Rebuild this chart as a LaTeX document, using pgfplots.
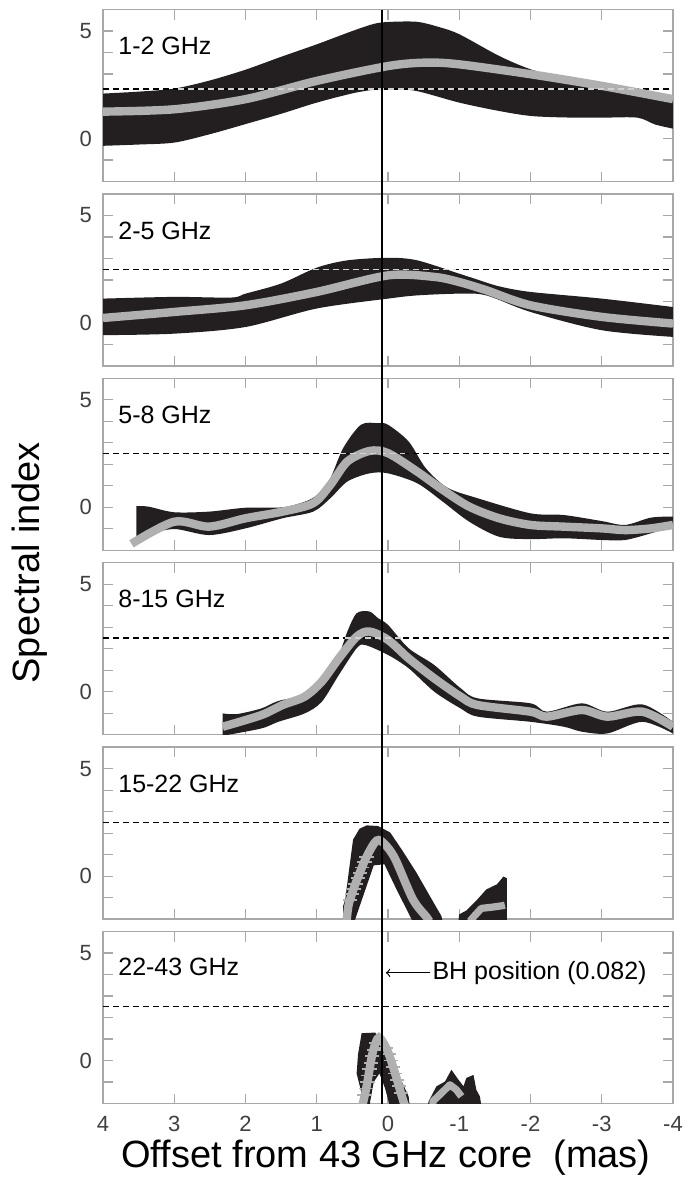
\documentclass[border=0pt]{standalone}
\usepackage{fontspec}
\setmainfont{Liberation Sans}
\usepackage{pgfplots}
\pgfplotsset{compat=1.18}
\usepgfplotslibrary{fillbetween}

\definecolor{band}{HTML}{231F20}
\definecolor{meanline}{HTML}{B0B0B0}
\definecolor{framegray}{HTML}{A8A8A8}
\definecolor{ticktext}{HTML}{404040}

\tikzset{
  plabel/.style={anchor=west, inner sep=0pt, font=\fontsize{12.5}{14}\selectfont},
}

\pgfplotsset{
  panel/.style={
    anchor=north west,
    width=285pt, height=86pt, scale only axis,
    xmin=-4, xmax=4, x dir=reverse,
    ymin=-2, ymax=6,
    xtick={-3,...,3}, xticklabels={},
    ytick={-1,...,5}, yticklabels={,0,,,,,5},
    tick align=inside, major tick length=5pt,
    tick style={draw=framegray, line width=0.6pt},
    axis line style={draw=framegray, line width=0.7pt},
    tick label style={font=\fontsize{11}{12}\selectfont, text=ticktext},
    yticklabel style={xshift=-2pt},
    xticklabel style={yshift=-3pt},
  },
  bandfill/.style={fill=band, draw=none},
  meanl/.style={draw=meanline, line width=4.2pt, smooth},
  meanj/.style={draw=meanline, line width=3.6pt, line join=round},
  hatch/.style={only marks, mark=-, mark size=3.6pt,
    mark options={draw=meanline, line width=0.9pt}},
  refdash/.style={draw=black, line width=0.6pt, dash pattern=on 3pt off 2pt},
  refdashlight/.style={draw=white!82!black, line width=0.6pt, dash pattern=on 3pt off 2pt},
  bandedge/.style={draw=none, smooth},
}

\begin{document}
\begin{tikzpicture}

% ---------------- 1-2 GHz ----------------
\begin{axis}[panel, at={(51.5pt,-4.75pt)}]
  \addplot[refdash] coordinates {(4,2.3) (-4,2.3)};
  \addplot[bandedge, name path=uA] coordinates {(4,2.09) (3.5,2.18) (3,2.32) (2.5,2.7) (2,3.2) (1.5,3.8) (1,4.38) (0.5,5.0) (0.2,5.33) (0,5.42) (-0.4,5.43) (-0.7,5.2) (-1,4.85) (-1.56,3.84) (-2,3.22) (-2.47,2.8) (-3,2.47) (-3.5,2.12) (-4,1.88)};
  \addplot[bandedge, name path=lA] coordinates {(4,-0.34) (3.5,-0.28) (3,-0.19) (2.5,0.2) (2,0.67) (1.5,1.15) (1,1.67) (0.5,2.1) (0.2,2.27) (0,2.32) (-0.4,2.21) (-1,1.67) (-1.56,1.28) (-2,1.05) (-2.47,0.98) (-3,0.97) (-3.5,0.97) (-3.75,0.65) (-4,0.46)};
  \addplot[bandfill] fill between[of=uA and lA];
  \addplot[meanl] coordinates {(4,1.25) (3,1.36) (2,1.83) (1,2.68) (0,3.37) (-0.53,3.53) (-1,3.45) (-2,2.99) (-3,2.45) (-4,1.83)};
  \addplot[refdashlight] coordinates {(2.95,2.3) (-3.45,2.3)};
  \node[plabel] at (axis cs:3.79,4.3) {1-2 GHz};
  \coordinate (bhtop) at (axis cs:0.082,6);
\end{axis}

% ---------------- 2-5 GHz ----------------
\begin{axis}[panel, at={(51.5pt,-96.95pt)}]
  \addplot[refdash] coordinates {(4,2.5) (-4,2.5)};
  \addplot[bandedge, name path=uB] coordinates {(4,1.13) (3,1.21) (2.2,1.18) (2,1.36) (1.5,1.83) (1,2.57) (0.57,2.91) (0,3.03) (-0.41,2.91) (-1,2.29) (-1.26,2.01) (-1.56,1.7) (-2,1.44) (-3,1.13) (-4,0.74)};
  \addplot[bandedge, name path=lB] coordinates {(4,-0.57) (3,-0.5) (2,-0.19) (1,0.67) (0,1.13) (-0.41,1.28) (-1,1.36) (-1.38,1.28) (-2,0.51) (-3,-0.34) (-4,-0.65)};
  \addplot[bandfill] fill between[of=uB and lB];
  \addplot[meanl] coordinates {(4,0.23) (3,0.51) (2,0.82) (1,1.44) (0,2.21) (-0.65,2.14) (-1,1.9) (-1.38,1.52) (-2,0.82) (-3,0.28) (-4,-0.03)};
  \addplot[refdashlight] coordinates {(1.05,2.5) (-0.95,2.5)};
  \node[plabel] at (axis cs:3.79,4.3) {2-5 GHz};
\end{axis}

% ---------------- 5-8 GHz ----------------
\begin{axis}[panel, at={(51.5pt,-189.15pt)}]
  \addplot[refdash] coordinates {(4,2.5) (-4,2.5)};
  \addplot[bandedge, name path=uC] coordinates {(3.53,0.06) (3.36,0.03) (3,-0.23) (2.51,-0.2) (2,-0.02) (1.48,0) (1.17,0.26) (1,0.57) (0.81,1.35) (0.63,2.75) (0.38,3.84) (0.14,3.91) (0,3.84) (-0.29,3.06) (-0.53,1.82) (-0.83,0.92) (-1.26,0.42) (-2,-0.28) (-2.47,-0.36) (-3,-0.64) (-3.33,-0.82) (-3.69,-0.48) (-4,-0.43)};
  \addplot[bandedge, name path=lC] coordinates {(3.53,-1.72) (3.36,-1.29) (3,-1.01) (2.51,-1.29) (2,-0.98) (1.48,-0.51) (1.05,-0.2) (0.81,0.42) (0.57,1.2) (0.26,1.58) (0,1.58) (-0.41,1.12) (-0.77,0.26) (-1.14,-0.67) (-1.56,-1.37) (-2,-1.48) (-2.47,-1.44) (-3,-1.52) (-3.33,-1.52) (-3.69,-1.21) (-4,-0.9)};
  \addplot[bandfill] fill between[of=uC and lC];
  \addplot[meanl] coordinates {(3.6,-1.7) (3,-0.67) (2.51,-0.9) (2,-0.51) (1.48,-0.2) (1.05,0.19) (0.81,1.04) (0.57,2.13) (0.26,2.62) (0,2.52) (-0.41,1.66) (-0.77,0.81) (-1.14,0.03) (-1.56,-0.51) (-2,-0.82) (-2.47,-0.9) (-3,-0.98) (-3.33,-1.06) (-3.69,-0.98) (-4,-0.82)};
  \addplot[refdashlight] coordinates {(0.68,2.5) (-0.24,2.5)};
  \node[plabel] at (axis cs:3.79,4.3) {5-8 GHz};
\end{axis}

% ---------------- 8-15 GHz ----------------
\begin{axis}[panel, at={(51.5pt,-281.35pt)}]
  \addplot[refdash] coordinates {(4,2.5) (-4,2.5)};
  \addplot[bandedge, name path=uD] coordinates {(2.32,-1.01) (2.12,-1.04) (1.78,-0.78) (1.54,-0.43) (1.17,-0.16) (0.93,0.31) (0.69,1.71) (0.57,2.8) (0.44,3.65) (0.26,3.73) (0.14,3.42) (0,3.11) (-0.29,2.02) (-0.65,1.24) (-1.02,0.16) (-1.26,-0.31) (-2,-0.54) (-2.23,-0.93) (-2.72,-0.54) (-3.08,-0.93) (-3.57,-0.59) (-4,-1.4)};
  \addplot[bandedge, name path=lD] coordinates {(2.32,-2.05) (1.78,-1.71) (1.54,-1.4) (1.17,-1.01) (0.93,-0.47) (0.69,0.78) (0.44,2.02) (0.32,2.17) (0,1.71) (-0.29,1.09) (-0.65,0) (-1.02,-0.78) (-1.26,-1.16) (-2,-1.4) (-2.47,-1.63) (-2.72,-1.86) (-3.08,-1.94) (-3.57,-1.4) (-4,-1.94)};
  \addplot[bandfill] fill between[of=uD and lD];
  \addplot[meanl] coordinates {(2.32,-1.63) (1.78,-1.09) (1.48,-0.62) (1.17,-0.23) (0.93,0.47) (0.69,1.55) (0.44,2.56) (0.26,2.8) (0,2.41) (-0.29,1.55) (-0.65,0.62) (-1.02,-0.23) (-1.26,-0.62) (-2,-0.93) (-2.23,-1.16) (-2.72,-0.85) (-3.08,-1.16) (-3.57,-0.93) (-4,-1.63)};
  \addplot[refdashlight] coordinates {(0.6,2.5) (-0.18,2.5)};
  \node[plabel] at (axis cs:3.79,4.3) {8-15 GHz};
\end{axis}

% ---------------- 15-22 GHz ----------------
\begin{axis}[panel, at={(51.5pt,-373.55pt)}]
  \addplot[refdash] coordinates {(4,2.5) (-4,2.5)};
  \addplot[bandfill] coordinates {(0.63,-2.3) (0.63,-1.4) (0.6,-1.08) (0.55,0.2) (0.49,1.7) (0.4,2.2) (0.3,2.36) (0.14,2.33) (-0.03,2.03) (-0.2,1.2) (-0.4,0.16) (-0.6,-1.0) (-0.75,-1.86) (-0.78,-2.3) (-0.36,-2.3) (-0.33,-2.0) (-0.12,-0.62) (0.05,0.55) (0.2,0.5) (0.46,-2.0) (0.48,-2.3)} -- cycle;
  \addplot[bandfill] coordinates {(-0.98,-2.3) (-1.0,-1.78) (-1.1,-1.6) (-1.25,-1.1) (-1.38,-0.62) (-1.53,-0.38) (-1.62,-0.02) (-1.67,-0.1) (-1.67,-2.3)} -- cycle;
  \addplot[meanl] coordinates {(0.58,-2.1) (0.55,-1.3) (0.45,-0.3) (0.3,0.9) (0.16,1.65) (0.05,1.5) (-0.1,0.8) (-0.35,-1.08) (-0.54,-1.9) (-0.58,-2.1)};
  \addplot[hatch] coordinates {(0.53,-1.1) (0.505,-0.85) (0.48,-0.6) (0.455,-0.35) (0.425,-0.1) (0.394,0.15) (0.362,0.4) (0.331,0.65) (0.3,0.9)};
  \addplot[meanj] coordinates {(-1.15,-2.1) (-1.2,-1.9) (-1.31,-1.5) (-1.45,-1.45) (-1.6,-1.38) (-1.64,-1.35)};
  \node[plabel] at (axis cs:3.79,4.3) {15-22 GHz};
\end{axis}

% ---------------- 22-43 GHz ----------------
\begin{axis}[panel, at={(51.5pt,-465.75pt)},
    xtick={-4,...,4}, xticklabels={-4,-3,-2,-1,0,1,2,3,4}]
  \addplot[refdash] coordinates {(4,2.5) (-4,2.5)};
  \addplot[bandfill] coordinates {(0.36,-2.3) (0.38,-1.4) (0.44,-0.6) (0.42,0.3) (0.37,1.27) (0.18,1.3) (0.02,0.65) (-0.14,-0.59) (-0.29,-1.67) (-0.31,-2.3) (-0.04,-2.3) (0.04,-1.3) (0.12,-0.6) (0.2,-1.0) (0.25,-1.9) (0.26,-2.3)} -- cycle;
  \addplot[bandfill] coordinates {(-0.55,-2.3) (-0.57,-1.9) (-0.68,-1.2) (-0.8,-0.98) (-0.89,-0.43) (-0.99,-0.9) (-1.06,-1.2) (-1.1,-0.81) (-1.2,-0.67) (-1.24,-1.36) (-1.29,-1.67) (-1.32,-2.3)} -- cycle;
  \addplot[meanl] coordinates {(0.36,-2.1) (0.3,-1.2) (0.22,0.3) (0.15,1.0) (0.1,1.0) (0.0,0.4) (-0.1,-0.6) (-0.21,-1.83) (-0.24,-2.1)};
  \addplot[hatch] coordinates {(0.327,-1.6) (0.307,-1.3) (0.289,-1.0) (0.273,-0.7) (0.257,-0.4) (0.241,-0.1) (0.225,0.2) (0.2,0.5) (0.17,0.8)};
  \addplot[hatch] coordinates {(0.033,0.6) (-0.01,0.3) (-0.04,0.0) (-0.07,-0.3) (-0.1,-0.6) (-0.127,-0.9) (-0.154,-1.2) (-0.18,-1.5)};
  \addplot[meanj] coordinates {(-0.63,-2.1) (-0.63,-1.9) (-0.87,-1.13) (-0.96,-1.36) (-1.03,-1.67)};
  \node[plabel] at (axis cs:3.79,4.35) {22-43 GHz};
  \draw[->, line width=0.6pt] (axis cs:-0.59,4.08) -- (axis cs:0.03,4.08);
  \node[anchor=west, inner sep=0pt, font=\fontsize{12.5}{14}\selectfont] at (axis cs:-0.62,4.08) {BH position (0.082)};
  \coordinate (bhbot) at (axis cs:0.082,-2);
\end{axis}

% black hole position across all panels
\draw[black, line width=0.8pt] (bhtop) -- (bhbot);

% axis titles
\node[rotate=90, font=\fontsize{19}{22}\selectfont] at (15pt,-281.5pt) {Spectral index};
\node[font=\fontsize{19}{22}\selectfont] at (193pt,-579pt) {Offset from 43 GHz core\ \ (mas)};

% page frame
\path (0pt,0pt) rectangle (340.5pt,-595.5pt);
\end{tikzpicture}
\end{document}
